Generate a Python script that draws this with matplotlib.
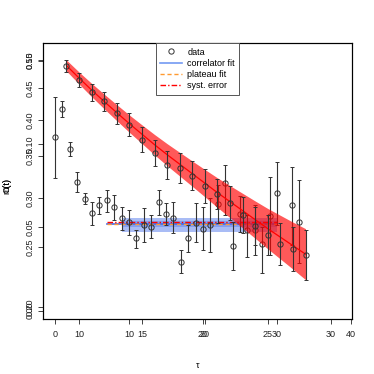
import matplotlib as mpl
mpl.use('Agg')
import matplotlib.pyplot as plt
import numpy as np
from matplotlib.lines import Line2D

plt.rcParams['font.family'] = ['Liberation Sans', 'DejaVu Sans']
plt.rcParams['font.size'] = 6.5

# effective mass data (log axis, bottom/left set 0..40, 0.20..0.50)
t_data = [0, 1, 2, 3, 4, 5, 6, 7, 8, 9, 10, 11, 12, 13, 14, 15, 16,
          17, 18, 19, 20, 21, 22, 23, 24, 25, 26, 27, 28, 29, 30, 32, 33]
m_data = [0.3754, 0.4174, 0.3598, 0.3184, 0.2993, 0.2832, 0.2920, 0.2975,
          0.2902, 0.2780, 0.2739, 0.2587, 0.2712, 0.2695, 0.2950, 0.2821,
          0.2780, 0.2367, 0.2581, 0.2737, 0.2678, 0.2712, 0.2931, 0.3165,
          0.2511, 0.2821, 0.2662, 0.2662, 0.2527, 0.2806, 0.3056, 0.2920,
          0.2745]
m_lo = [0.3224, 0.4052, 0.3502, 0.3068, 0.2931, 0.2712, 0.2824, 0.2849,
        0.2762, 0.2662, 0.2613, 0.2487, 0.2548, 0.2584, 0.2814, 0.2712,
        0.2629, 0.2267, 0.2456, 0.2548, 0.2472, 0.2456, 0.2732, 0.2814,
        0.2295, 0.2642, 0.2411, 0.2426, 0.2267, 0.2426, 0.2712, 0.2517,
        0.2355]
m_hi = [0.4363, 0.4294, 0.3693, 0.3304, 0.3049, 0.2956, 0.3012, 0.3087,
        0.3031, 0.2902, 0.2867, 0.2662, 0.2888, 0.2814, 0.3087, 0.2942,
        0.2956, 0.2472, 0.2712, 0.2942, 0.2902, 0.2997, 0.3145, 0.3387,
        0.2745, 0.3019, 0.2814, 0.2920, 0.2695, 0.3243, 0.3429, 0.3366,
        0.3204]

# plateau / fit results
plat_range = [7, 30]
band_range = [9, 30]
fit_val = 0.2726
plat_val = 0.2719
syst_val = 0.2739
fit_outer = [0.2645, 0.2780]
fit_inner = [0.2689, 0.2755]

# correlator (linear axis, 10..30, 0.00..0.15)
t_corr = [9, 10, 11, 12, 13, 14, 15, 16, 17, 18, 19, 20, 21, 22, 23, 24,
          25, 26, 27, 28]
c_data = [0.1469, 0.1385, 0.1310, 0.1256, 0.1184, 0.1116, 0.1025, 0.0947,
          0.0876, 0.0857, 0.0810, 0.0750, 0.0700, 0.0646, 0.0574, 0.0510,
          0.0454, 0.0400, 0.0370, 0.0336]
c_err = [0.0035, 0.0042, 0.0050, 0.0058, 0.0063, 0.0070, 0.0075, 0.0078,
         0.0084, 0.0090, 0.0085, 0.0102, 0.0090, 0.0102, 0.0108, 0.0114,
         0.0120, 0.0126, 0.0132, 0.0150]
c_fit = [0.1471, 0.1396, 0.1324, 0.1255, 0.1188, 0.1122, 0.1059, 0.0996,
         0.0936, 0.0879, 0.0822, 0.0765, 0.0708, 0.0654, 0.0600, 0.0546,
         0.0492, 0.0441, 0.0390, 0.0339]
c_fit_err = [0.0033, 0.0036, 0.0040, 0.0044, 0.0048, 0.0052, 0.0056, 0.0061,
             0.0066, 0.0071, 0.0076, 0.0082, 0.0089, 0.0096, 0.0104, 0.0112,
             0.0121, 0.0131, 0.0141, 0.0153]

fig = plt.figure(figsize=(3.74, 3.74), dpi=100)
pos = [0.115, 0.147, 0.826, 0.738]
ax1 = fig.add_axes(pos)
ax2 = fig.add_axes(pos)
ax2.patch.set_visible(False)

blue = (0.25, 0.42, 0.92)
ebar = dict(fmt='o', mfc='none', mec='#333333', ms=3.8, mew=0.7,
            ecolor='#333333', elinewidth=0.8, capsize=1.6, capthick=0.8)

# --- plot A: effective mass, log y
ax1.set_yscale('log')
ax1.fill_between(band_range, fit_outer[0], fit_outer[1], color=blue,
                 alpha=0.45, lw=0, zorder=1)
ax1.fill_between(band_range, fit_inner[0], fit_inner[1], color=blue,
                 alpha=0.35, lw=0, zorder=1)
ax1.plot(plat_range, [fit_val, fit_val], color=blue, lw=1.2, zorder=2)
ax1.plot(plat_range, [plat_val, plat_val], color='#ff9a30', lw=1.0,
         ls=(0, (3, 2)), zorder=3)
ax1.plot(plat_range, [syst_val, syst_val], color='red', lw=1.0,
         ls=(0, (4, 1.5, 1, 1.5)), zorder=3)
m = np.array(m_data)
ax1.errorbar(t_data, m, yerr=[m - np.array(m_lo), np.array(m_hi) - m],
             zorder=4, **ebar)
ax1.set_xlim(-1.62, 40.14)
ax1.set_ylim(0.1915, 0.5325)
ax1.set_xticks([0, 10, 20, 30, 40])
ax1.set_xticklabels(['0', '10', '20', '30', '40'])
ax1.set_yticks([0.20, 0.25, 0.30, 0.35, 0.40, 0.45, 0.50])
ax1.set_yticklabels(['0.20', '0.25', '0.30', '0.35', '0.40', '0.45', '0.50'])
ax1.minorticks_off()

# --- plot B: correlator, linear y
cf = np.array(c_fit)
cfe = np.array(c_fit_err)
ax2.fill_between(t_corr, cf - cfe, cf + cfe, color='red', alpha=0.65,
                 lw=0, zorder=1)
ax2.plot(t_corr, c_fit, color='red', lw=0.9, zorder=2)
ax2.errorbar(t_corr, c_data, yerr=c_err, zorder=3, **ebar)
ax2.set_xlim(7.139, 31.69)
ax2.set_ylim(-0.00504, 0.1606)
ax2.set_xticks([10, 15, 20, 25, 30])
ax2.set_xticklabels(['10', '15', '20', '25', '30'])
ax2.set_yticks([0.00, 0.05, 0.10, 0.15])
ax2.set_yticklabels(['0.00', '0.05', '0.10', '0.15'])

for ax in (ax1, ax2):
    for s in ax.spines.values():
        s.set_linewidth(0.8)
    ax.tick_params(direction='out', length=3.6, width=0.6, pad=4.5,
                   labelsize=6.5, colors='#222222')
    ax.tick_params(axis='y', pad=2.5)
    for lab in ax.get_yticklabels():
        lab.set_rotation(90)
        lab.set_va('center')

ax1.set_xlabel('τ', fontsize=6.5)
ax1.xaxis.set_label_coords(0.5, -0.152)
ax1.set_ylabel('C(t)', fontsize=6.5)
ax2.set_ylabel('m(t)', fontsize=6.5)
ax1.yaxis.set_label_coords(-0.103, 0.482)
ax2.yaxis.set_label_coords(-0.103, 0.482)

handles = [
    Line2D([], [], marker='o', ls='none', mfc='none', mec='#333333', ms=3.8,
           mew=0.7),
    Line2D([], [], color=(0.45, 0.6, 0.95), lw=1.2),
    Line2D([], [], color='#ff9a30', lw=1.0, ls=(0, (3, 2))),
    Line2D([], [], color='red', lw=1.0, ls=(0, (4, 1.5, 1, 1.5))),
]
leg = ax2.legend(handles, ['data', 'correlator fit', 'plateau fit',
                           'syst. error'],
                 loc='upper center', borderaxespad=0, fancybox=False,
                 edgecolor='#555555', framealpha=1, fontsize=6.5,
                 handlelength=2.4, handletextpad=0.6, labelspacing=0.25,
                 borderpad=0.5)
leg.get_frame().set_linewidth(0.7)

plt.savefig('out.png', dpi=100)
